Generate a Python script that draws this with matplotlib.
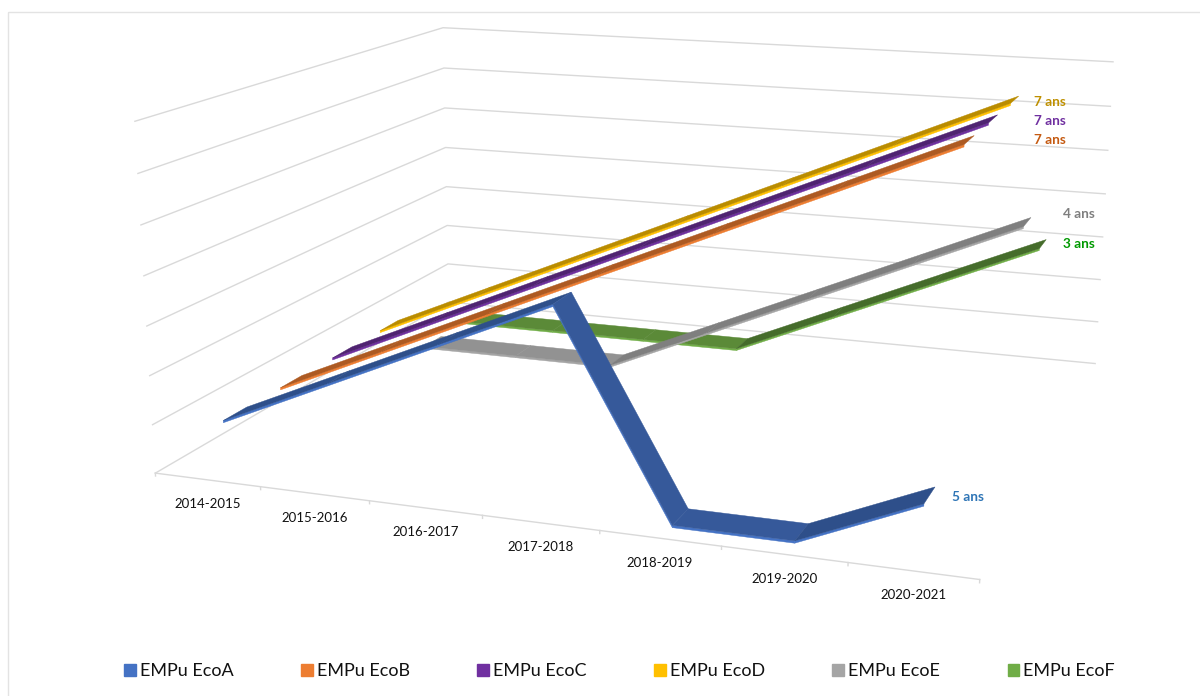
import numpy as np
import matplotlib
matplotlib.use('Agg')
import matplotlib.pyplot as plt
from matplotlib.patches import Polygon, Patch

years = ['2014-2015', '2015-2016', '2016-2017', '2017-2018', '2018-2019', '2019-2020', '2020-2021']
names = ['EMPu EcoA', 'EMPu EcoB', 'EMPu EcoC', 'EMPu EcoD', 'EMPu EcoE', 'EMPu EcoF']

eco_a = [1, 2, 3, 4, 0, 0, 1]
eco_b = [1, 2, 3, 4, 5, 6, 7]
eco_c = [1, 2, 3, 4, 5, 6, 7]
eco_d = [1, 2, 3, 4, 5, 6, 7]
eco_e = [0, 0, 0, 1, 2, 3, 4]
eco_f = [0, 0, 0, 0, 1, 2, 3]
series = [eco_a, eco_b, eco_c, eco_d, eco_e, eco_f]

end_labels = ['5 ans', '7 ans', '7 ans', '7 ans', '4 ans', '3 ans']
label_xy = [(968, 497), (1050, 140), (1050, 121), (1050, 102), (1079, 214), (1079, 244)]
label_colors = ['#2E75B6', '#C55A11', '#7030A0', '#BF9000', '#7F7F7F', '#009900']

base = ['#4472C4', '#ED7D31', '#7030A0', '#FFC000', '#A5A5A5', '#70AD47']
top_up = ['#2E4F8A', '#AD5A22', '#4F2371', '#BA8C00', '#7F7F7F', '#456C2B']
top_down = ['#36599A', '#BA6126', '#58277C', '#C79500', '#929292', '#5B8A38']

# box corners of the 3d frame: (category, depth, value) -> pixel
n_cat, n_depth, n_val = 7, 6, 7
calib = [((0, 0, 0), (155, 472)), ((7, 0, 0), (980, 580)),
         ((0, 6, 0), (449, 303)), ((7, 6, 0), (1095, 363)),
         ((0, 0, 7), (135, 122)), ((0, 6, 7), (443, 27)),
         ((7, 6, 7), (1113, 62))]

rows = []
for (x, y, z), (u, v) in calib:
    rows.append([x, y, z, 1, 0, 0, 0, 0, -u*x, -u*y, -u*z, -u])
    rows.append([0, 0, 0, 0, x, y, z, 1, -v*x, -v*y, -v*z, -v])
P = np.linalg.svd(np.array(rows, dtype=float))[2][-1].reshape(3, 4)

def proj(x, y, z):
    h = P @ np.array([x, y, z, 1.0])
    return h[0]/h[2], h[1]/h[2]

fig = plt.figure(figsize=(12, 6.96), dpi=100)
plt.rcParams['font.family'] = ['Lato', 'DejaVu Sans']
ax = fig.add_axes([0, 0, 1, 1])
ax.set_xlim(0, 1200)
ax.set_ylim(696, 0)
ax.axis('off')

ax.add_patch(plt.Rectangle((8, 12), 1300, 800, fill=False, ec='#E3E3E3', lw=1))

grid = '#D9D9D9'
for z in range(n_val+1):
    ax.plot(*zip(proj(0, 0, z), proj(0, n_depth, z), proj(n_cat, n_depth, z)), color=grid, lw=1, zorder=1)
ax.plot(*zip(proj(0, 0, 0), proj(n_cat, 0, 0)), color=grid, lw=1, zorder=1)
for k in range(n_cat+1):
    ax.plot(*zip(proj(k, 0, 0), proj(k, 0, -0.06)), color=grid, lw=1, zorder=1)
for k, y in enumerate(years):
    u, v = proj(k+0.5, 0, 0)
    ax.text(u, v+24.5, y, fontsize=9.5, ha='center', va='center', color='#111111')

w0, w1 = 0.3, 0.7
thick = 0.045
order = 10
for i in range(5, -1, -1):
    vals = series[i]
    for k in range(n_cat-1):
        x0, x1 = k+0.5, k+1.5
        z0, z1 = vals[k], vals[k+1]
        front = [proj(x0, i+w0, z0), proj(x1, i+w0, z1), proj(x1, i+w0, z1-thick), proj(x0, i+w0, z0-thick)]
        top = [proj(x0, i+w0, z0), proj(x1, i+w0, z1), proj(x1, i+w1, z1), proj(x0, i+w1, z0)]
        col = top_up[i] if z1 > z0 else top_down[i]
        ax.add_patch(Polygon(front, fc=base[i], ec=base[i], lw=0.3, zorder=order))
        ax.add_patch(Polygon(top, fc=col, ec=col, lw=0.3, zorder=order))
    order += 1

for t, xy, c in zip(end_labels, label_xy, label_colors):
    ax.text(xy[0], xy[1], t, color=c, fontsize=9.8, fontweight='bold', ha='center', va='center', zorder=30)

handles = [Patch(fc=c, ec=c, label=n) for c, n in zip(base, names)]
ax.legend(handles=handles, ncol=6, loc='center', bbox_to_anchor=(619.5/1200, 1-671/696), frameon=False,
          fontsize=13, handlelength=0.66, handleheight=0.66, handletextpad=0.2, columnspacing=3.75,
          labelcolor='#111111', borderpad=0)

fig.savefig('out.png', dpi=100)
